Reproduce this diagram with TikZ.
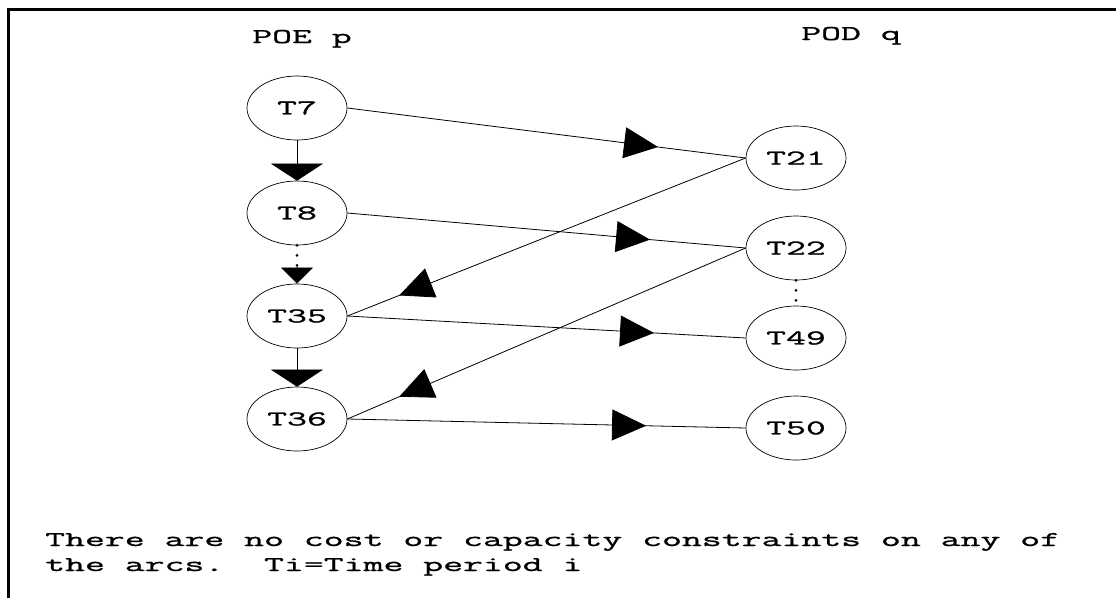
\documentclass[tikz,border=0pt]{standalone}
\usepackage{fontspec}
\usepackage{tikz}
\usetikzlibrary{arrows.meta}
\usetikzlibrary{shapes.geometric}
\usetikzlibrary{decorations.markings}
\newfontfamily\scanfont[FakeStretch=1.84,FakeBold=1.2]{Latin Modern Mono}

\begin{document}
\begin{tikzpicture}[x=1pt,y=-1pt,
  period/.style={draw,ellipse,line width=0.7pt,minimum width=100pt,minimum height=64pt,inner sep=0pt,font=\scanfont\fontsize{21}{25}\selectfont},
  caption/.style={inner sep=0pt,font=\scanfont\fontsize{21}{25}\selectfont},
  arc/.style={line width=0.8pt},
  flowtip/.style={postaction={decorate},decoration={markings,mark=at position #1 with {\arrow{Triangle[length=34pt,width=31pt]}}}},
  bigdown/.style={line width=0.6pt,-{Triangle[length=17pt,width=52pt]}},
  dotline/.style={line width=3pt,line cap=round,dash pattern=on 0pt off 10pt}]
\useasboundingbox (0,0) rectangle (1116,598);
\draw[line width=3pt] (8,598) -- (8,9) -- (1116,9);
\node[caption,anchor=base] (poe) at (302,43) {POE p};
\node[caption,anchor=base] (pod) at (851,40) {POD q};
\node[period] (t7) at (297,108) {T7};
\node[period] (t8) at (297,213) {T8};
\node[period] (t35) at (297,316) {T35};
\node[period] (t36) at (297,419) {T36};
\node[period] (t21) at (796,158) {T21};
\node[period] (t22) at (796,248) {T22};
\node[period] (t49) at (796,338) {T49};
\node[period] (t50) at (796,428) {T50};
% waiting at the port of embarkation
\draw[bigdown] (t7) -- (t8);
\draw[dotline] (t8.south) -- ([yshift=17pt]t35.north);
\draw[line width=0.6pt,-{Triangle[length=16pt,width=32pt]}] ([yshift=17pt]t35.north) -- (t35.north);
\draw[bigdown] (t35) -- (t36);
\draw[dotline] (t22.south) -- (t49.north);
% sailings and returns
\draw[arc,flowtip=0.78] (t7.east) -- (t21.west);
\draw[arc,flowtip=0.76] (t8.east) -- (t22.west);
\draw[arc,flowtip=0.77] (t35.east) -- (t49.west);
\draw[arc,flowtip=0.75] (t36.east) -- (t50.west);
\draw[arc,flowtip=0.87] (t21.west) -- (t35.east);
\draw[arc,flowtip=0.87] (t22.west) -- (t36.east);
\node[caption,anchor=base west] (noteA) at (45,546) {There are no cost or capacity constraints on any of};
\node[caption,anchor=base west] (noteB) at (45,571) {\frenchspacing the arcs.\ \ Ti=Time period i};
\end{tikzpicture}
\end{document}
